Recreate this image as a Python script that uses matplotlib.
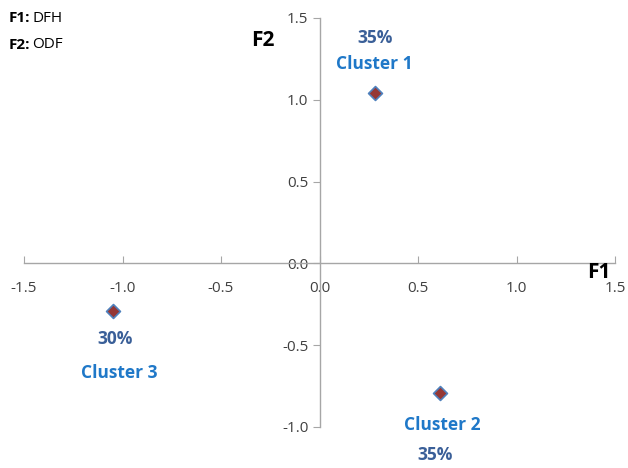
import matplotlib.pyplot as plt
import numpy as np

plt.rcParams['font.family'] = ['Open Sans', 'DejaVu Sans']

clusters = ["Cluster 1", "Cluster 2", "Cluster 3"]
shares = ["35%", "35%", "30%"]
f1 = [0.28, 0.61, -1.05]
f2 = [1.04, -0.79, -0.29]
x_ticks = [-1.5, -1.0, -0.5, 0.0, 0.5, 1.0, 1.5]
y_ticks = [-1.0, -0.5, 0.0, 0.5, 1.0, 1.5]

# offsets (points) for the share / name labels of each cluster
share_off = [(0, 40), (-3, -45), (2, -20)]
name_off = [(0, 21), (2, -23), (5, -45)]

fig = plt.figure(figsize=(6.28, 4.68), dpi=100)
ax = fig.add_axes([24 / 628, 1 - 427 / 468, 591 / 628, 409 / 468])

ax.set_xlim(-1.5, 1.5)
ax.set_ylim(-1.0, 1.5)
ax.spines['left'].set_position(('data', 0))
ax.spines['bottom'].set_position(('data', 0))
for s in ['top', 'right']:
    ax.spines[s].set_visible(False)
for s in ['left', 'bottom']:
    ax.spines[s].set_color('#a6a6a6')
    ax.spines[s].set_linewidth(1.0)

ax.set_xticks(x_ticks)
ax.set_yticks(y_ticks)
ax.set_xticklabels([f"{v:.1f}" for v in x_ticks])
ax.set_yticklabels([f"{v:.1f}" for v in y_ticks])
ax.tick_params(axis='x', direction='in', length=5, color='#a6a6a6',
               labelsize=11, labelcolor='#404040', pad=13)
ax.tick_params(axis='y', direction='out', length=5, color='#a6a6a6',
               labelsize=11, labelcolor='#404040', pad=3)

ax.scatter(f1, f2, marker='D', s=50, facecolor='#953735',
           edgecolor='#4f81bd', linewidth=1.2, zorder=3)

for i in range(len(clusters)):
    ax.annotate(shares[i], (f1[i], f2[i]), xytext=share_off[i],
                textcoords='offset points', ha='center', va='center',
                fontsize=12.5, fontweight='bold', color='#3a5f98')
    ax.annotate(clusters[i], (f1[i], f2[i]), xytext=name_off[i],
                textcoords='offset points', ha='center', va='center',
                fontsize=12.5, fontweight='bold', color='#1f78c8')

fig.text(599 / 628, 1 - 272 / 468, "F1", fontsize=15, fontweight='bold',
         ha='center', va='center')
fig.text(263 / 628, 1 - 40 / 468, "F2", fontsize=15, fontweight='bold',
         ha='center', va='center')

fig.text(9 / 628, 1 - 18 / 468, "F1:", fontsize=11, fontweight='bold',
         ha='left', va='center')
fig.text(32 / 628, 1 - 18 / 468, "DFH", fontsize=11, ha='left', va='center')
fig.text(9 / 628, 1 - 45 / 468, "F2:", fontsize=11, fontweight='bold',
         ha='left', va='center')
fig.text(32 / 628, 1 - 45 / 468, "ODF", fontsize=11, ha='left', va='center')

fig.savefig("out.png", dpi=100)
